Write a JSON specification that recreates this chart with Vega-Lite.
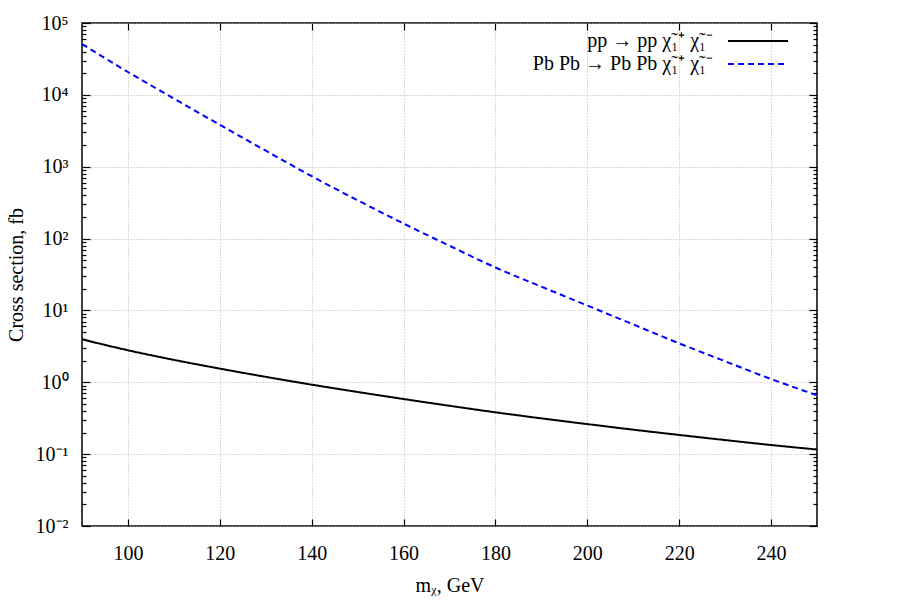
{
  "$schema": "https://vega.github.io/schema/vega-lite/v6.json",
  "width": 735,
  "height": 503,
  "autosize": {"type": "none"},
  "padding": {"left": 82, "top": 23, "right": 83, "bottom": 74},
  "background": "white",
  "config": {
    "font": "Liberation Serif",
    "view": {"stroke": "black", "strokeWidth": 1.5},
    "axis": {
      "domain": false,
      "labelFont": "Liberation Serif",
      "labelFontSize": 20,
      "labelColor": "black",
      "titleFont": "Liberation Serif",
      "titleFontSize": 20,
      "titleFontWeight": "normal",
      "titleColor": "black",
      "tickColor": "black",
      "tickWidth": 1.2,
      "gridColor": "#b4b4b4",
      "gridDash": [1, 2],
      "gridWidth": 1,
      "labelOverlap": false
    }
  },
  "data": {
    "values": [
      {"mass": 90, "xsec": 3.96, "process": "pp → pp χ̃₁⁺ χ̃₁⁻"},
      {"mass": 100, "xsec": 2.79, "process": "pp → pp χ̃₁⁺ χ̃₁⁻"},
      {"mass": 110, "xsec": 2.05, "process": "pp → pp χ̃₁⁺ χ̃₁⁻"},
      {"mass": 120, "xsec": 1.55, "process": "pp → pp χ̃₁⁺ χ̃₁⁻"},
      {"mass": 130, "xsec": 1.19, "process": "pp → pp χ̃₁⁺ χ̃₁⁻"},
      {"mass": 140, "xsec": 0.927, "process": "pp → pp χ̃₁⁺ χ̃₁⁻"},
      {"mass": 150, "xsec": 0.733, "process": "pp → pp χ̃₁⁺ χ̃₁⁻"},
      {"mass": 160, "xsec": 0.585, "process": "pp → pp χ̃₁⁺ χ̃₁⁻"},
      {"mass": 170, "xsec": 0.471, "process": "pp → pp χ̃₁⁺ χ̃₁⁻"},
      {"mass": 180, "xsec": 0.382, "process": "pp → pp χ̃₁⁺ χ̃₁⁻"},
      {"mass": 190, "xsec": 0.315, "process": "pp → pp χ̃₁⁺ χ̃₁⁻"},
      {"mass": 200, "xsec": 0.262, "process": "pp → pp χ̃₁⁺ χ̃₁⁻"},
      {"mass": 210, "xsec": 0.219, "process": "pp → pp χ̃₁⁺ χ̃₁⁻"},
      {"mass": 220, "xsec": 0.185, "process": "pp → pp χ̃₁⁺ χ̃₁⁻"},
      {"mass": 230, "xsec": 0.157, "process": "pp → pp χ̃₁⁺ χ̃₁⁻"},
      {"mass": 240, "xsec": 0.134, "process": "pp → pp χ̃₁⁺ χ̃₁⁻"},
      {"mass": 250, "xsec": 0.116, "process": "pp → pp χ̃₁⁺ χ̃₁⁻"},
      {"mass": 90, "xsec": 51000, "process": "Pb Pb → Pb Pb χ̃₁⁺ χ̃₁⁻"},
      {"mass": 100, "xsec": 20800, "process": "Pb Pb → Pb Pb χ̃₁⁺ χ̃₁⁻"},
      {"mass": 110, "xsec": 8870, "process": "Pb Pb → Pb Pb χ̃₁⁺ χ̃₁⁻"},
      {"mass": 120, "xsec": 3830, "process": "Pb Pb → Pb Pb χ̃₁⁺ χ̃₁⁻"},
      {"mass": 130, "xsec": 1670, "process": "Pb Pb → Pb Pb χ̃₁⁺ χ̃₁⁻"},
      {"mass": 140, "xsec": 738, "process": "Pb Pb → Pb Pb χ̃₁⁺ χ̃₁⁻"},
      {"mass": 150, "xsec": 341, "process": "Pb Pb → Pb Pb χ̃₁⁺ χ̃₁⁻"},
      {"mass": 160, "xsec": 162, "process": "Pb Pb → Pb Pb χ̃₁⁺ χ̃₁⁻"},
      {"mass": 170, "xsec": 79.4, "process": "Pb Pb → Pb Pb χ̃₁⁺ χ̃₁⁻"},
      {"mass": 180, "xsec": 39.6, "process": "Pb Pb → Pb Pb χ̃₁⁺ χ̃₁⁻"},
      {"mass": 190, "xsec": 21.4, "process": "Pb Pb → Pb Pb χ̃₁⁺ χ̃₁⁻"},
      {"mass": 200, "xsec": 11.7, "process": "Pb Pb → Pb Pb χ̃₁⁺ χ̃₁⁻"},
      {"mass": 210, "xsec": 6.38, "process": "Pb Pb → Pb Pb χ̃₁⁺ χ̃₁⁻"},
      {"mass": 220, "xsec": 3.48, "process": "Pb Pb → Pb Pb χ̃₁⁺ χ̃₁⁻"},
      {"mass": 230, "xsec": 1.96, "process": "Pb Pb → Pb Pb χ̃₁⁺ χ̃₁⁻"},
      {"mass": 240, "xsec": 1.11, "process": "Pb Pb → Pb Pb χ̃₁⁺ χ̃₁⁻"},
      {"mass": 250, "xsec": 0.66, "process": "Pb Pb → Pb Pb χ̃₁⁺ χ̃₁⁻"}
    ]
  },
  "layer": [
    {
      "mark": {"type": "line", "strokeWidth": 2, "interpolate": "monotone", "clip": true},
      "encoding": {
        "x": {
          "field": "mass",
          "type": "quantitative",
          "scale": {"domain": [90, 250], "nice": false, "zero": false},
          "axis": {
            "orient": "bottom",
            "title": "mᵪ, GeV",
            "titlePadding": 12,
            "values": [100, 120, 140, 160, 180, 200, 220, 240],
            "tickSize": -7,
            "labelPadding": 24,
            "grid": true
          }
        },
        "y": {
          "field": "xsec",
          "type": "quantitative",
          "scale": {"type": "log", "domain": [0.01, 100000], "nice": false},
          "axis": {
            "orient": "left",
            "title": "Cross section, fb",
            "titlePadding": 9,
            "values": [0.01, 0.02, 0.03, 0.04, 0.05, 0.06, 0.07, 0.08, 0.09,
                       0.1, 0.2, 0.3, 0.4, 0.5, 0.6, 0.7, 0.8, 0.9,
                       1, 2, 3, 4, 5, 6, 7, 8, 9,
                       10, 20, 30, 40, 50, 60, 70, 80, 90,
                       100, 200, 300, 400, 500, 600, 700, 800, 900,
                       1000, 2000, 3000, 4000, 5000, 6000, 7000, 8000, 9000,
                       10000, 20000, 30000, 40000, 50000, 60000, 70000, 80000, 90000,
                       100000],
            "labelExpr": "abs(log(datum.value)/LN10 - round(log(datum.value)/LN10)) > 0.001 ? '' : ['10⁻²','10⁻¹','10⁰','10¹','10²','10³','10⁴','10⁵'][round(log(datum.value)/LN10) + 2]",
            "tickSize": {"condition": {"test": "abs(log(datum.value)/LN10 - round(log(datum.value)/LN10)) < 0.001", "value": -8}, "value": -4},
            "gridOpacity": {"condition": {"test": "abs(log(datum.value)/LN10 - round(log(datum.value)/LN10)) < 0.001", "value": 1}, "value": 0},
            "labelPadding": 22,
            "grid": true
          }
        },
        "color": {
          "field": "process",
          "type": "nominal",
          "title": null,
          "scale": {"domain": ["pp → pp χ̃₁⁺ χ̃₁⁻", "Pb Pb → Pb Pb χ̃₁⁺ χ̃₁⁻"], "range": ["black", "#0000ff"]},
          "legend": {
            "orient": "none",
            "legendX": 665,
            "legendY": 7,
            "padding": 0,
            "rowPadding": 2,
            "symbolType": "M-3,0H3",
            "symbolSize": 400,
            "symbolStrokeWidth": 2,
            "labelAlign": "right",
            "labelOffset": -56,
            "labelFontSize": 20,
            "labelFont": "Liberation Serif",
            "labelColor": "black",
            "labelLimit": 400
          }
        },
        "strokeDash": {
          "field": "process",
          "type": "nominal",
          "title": null,
          "scale": {"domain": ["pp → pp χ̃₁⁺ χ̃₁⁻", "Pb Pb → Pb Pb χ̃₁⁺ χ̃₁⁻"], "range": [[1, 0], [6, 4]]},
          "legend": {
            "orient": "none",
            "legendX": 665,
            "legendY": 7,
            "padding": 0,
            "rowPadding": 2,
            "symbolType": "M-3,0H3",
            "symbolSize": 400,
            "symbolStrokeWidth": 2,
            "labelAlign": "right",
            "labelOffset": -56,
            "labelFontSize": 20,
            "labelFont": "Liberation Serif",
            "labelColor": "black",
            "labelLimit": 400
          }
        }
      }
    },
    {
      "mark": {"type": "line", "opacity": 0},
      "encoding": {
        "x": {
          "field": "mass",
          "type": "quantitative",
          "axis": {
            "orient": "top",
            "title": null,
            "labels": false,
            "values": [100, 120, 140, 160, 180, 200, 220, 240],
            "tickSize": -7,
            "grid": false
          }
        },
        "y": {
          "field": "xsec",
          "type": "quantitative",
          "axis": {
            "orient": "right",
            "title": null,
            "labels": false,
            "values": [0.01, 0.02, 0.03, 0.04, 0.05, 0.06, 0.07, 0.08, 0.09,
                       0.1, 0.2, 0.3, 0.4, 0.5, 0.6, 0.7, 0.8, 0.9,
                       1, 2, 3, 4, 5, 6, 7, 8, 9,
                       10, 20, 30, 40, 50, 60, 70, 80, 90,
                       100, 200, 300, 400, 500, 600, 700, 800, 900,
                       1000, 2000, 3000, 4000, 5000, 6000, 7000, 8000, 9000,
                       10000, 20000, 30000, 40000, 50000, 60000, 70000, 80000, 90000,
                       100000],
            "tickSize": {"condition": {"test": "abs(log(datum.value)/LN10 - round(log(datum.value)/LN10)) < 0.001", "value": -8}, "value": -4},
            "grid": false
          }
        }
      }
    }
  ],
  "resolve": {"axis": {"x": "independent", "y": "independent"}}
}
